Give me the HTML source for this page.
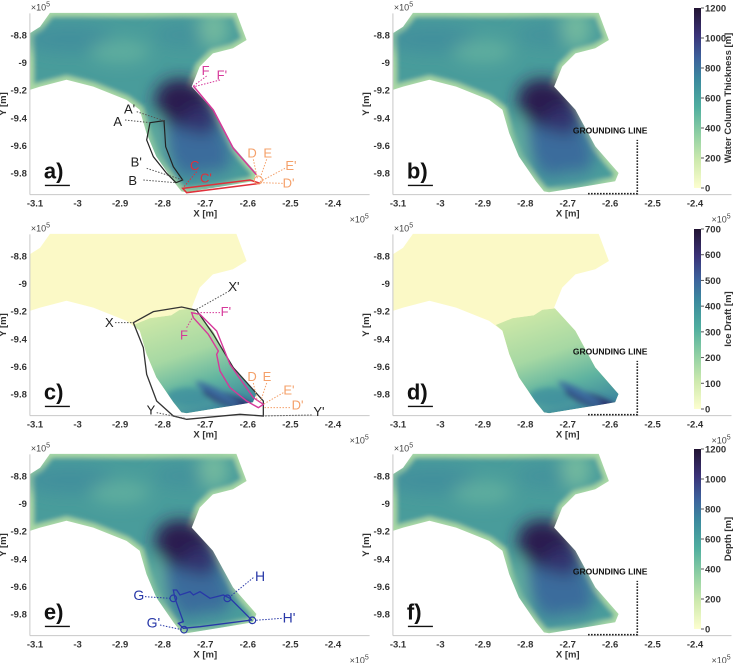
<!DOCTYPE html>
<html><head><meta charset="utf-8"><style>
html,body{margin:0;padding:0;background:#fff;}
svg{display:block;font-family:"Liberation Sans",sans-serif;}
</style></head><body>
<svg id="fig" width="738" height="663" viewBox="0 0 738 663">
<defs>
<linearGradient id="cmap" x1="0" y1="1" x2="0" y2="0">
<stop offset="0" stop-color="#fdfecf"/><stop offset="0.15" stop-color="#cfeaae"/><stop offset="0.3" stop-color="#8fcfa3"/>
<stop offset="0.45" stop-color="#4fae9f"/><stop offset="0.6" stop-color="#3b8a9e"/><stop offset="0.72" stop-color="#3c629c"/>
<stop offset="0.85" stop-color="#3a3278"/><stop offset="1" stop-color="#221433"/></linearGradient>
<linearGradient id="tongueG" x1="0.2" y1="0" x2="0.6" y2="1">
<stop offset="0" stop-color="#d2eaa8"/><stop offset="0.45" stop-color="#a6d8a3"/><stop offset="0.75" stop-color="#5fb3a0"/><stop offset="1" stop-color="#3f8a9e"/></linearGradient>
<filter id="blur" x="-50%" y="-50%" width="200%" height="200%"><feGaussianBlur stdDeviation="8"/></filter>
<filter id="blur2" x="-50%" y="-50%" width="200%" height="200%"><feGaussianBlur stdDeviation="3"/></filter>
<filter id="blur3" x="-20%" y="-20%" width="140%" height="140%"><feGaussianBlur stdDeviation="2.5"/></filter>
</defs>
</svg>
<script>
const xTicks=[-3.1,-3,-2.9,-2.8,-2.7,-2.6,-2.5,-2.4];
const yTicks=[-8.8,-9,-9.2,-9.4,-9.6,-9.8];
const cbTicksA=[0,200,400,600,800,1000,1200];
const cbTicksB=[0,100,200,300,400,500,600,700];
const outlineX=[-3.065,-2.627,-2.603,-2.635,-2.682,-2.713,-2.732,-2.682,-2.635,-2.580,-2.588,-2.635,-2.744,-2.756,-2.775,-2.815,-2.838,-2.854,-2.885,-2.963,-3.026,-3.088,-3.112,-3.112,-3.088];
const outlineY=[-8.64,-8.64,-8.836,-8.896,-8.933,-9.029,-9.174,-9.342,-9.607,-9.80,-9.86,-9.884,-9.94,-9.933,-9.86,-9.68,-9.511,-9.342,-9.27,-9.174,-9.125,-9.174,-9.198,-8.788,-8.74];
const tongueX=[-2.87,-2.83,-2.78,-2.76,-2.73,-2.682,-2.635,-2.58,-2.588,-2.635,-2.744,-2.756,-2.775,-2.815,-2.838,-2.854];
const tongueY=[-9.30,-9.25,-9.23,-9.19,-9.18,-9.342,-9.607,-9.80,-9.86,-9.884,-9.94,-9.933,-9.86,-9.68,-9.511,-9.342];
const svg=document.getElementById('fig');
const NS='http://www.w3.org/2000/svg';
function mk(tag,attrs,parent,text){const e=document.createElementNS(NS,tag);for(const k in attrs)e.setAttribute(k,attrs[k]);if(text!==undefined)e.textContent=text;(parent||svg).appendChild(e);return e;}
const rows=[0,221,441];
function panel(col,row,kind,letter){
  const ox=col===0?35:398, oy=rows[row]+35, s=col===0?425.7:424.3;
  const X=x=>ox+(x+3.1)*s, Y=y=>oy+(-8.8-y)*138;
  const g=mk('g',{});
  
  
  const pts=(xs,ys)=>xs.map((x,i)=>X(x).toFixed(1)+','+Y(ys[i]).toFixed(1)).join(' ');
  const cid='clip'+letter;
  const cp=mk('clipPath',{id:cid},g);mk('polygon',{points:pts(outlineX,outlineY)},cp);
  const tcid='tclip'+letter;
  const tcp=mk('clipPath',{id:tcid},g);mk('polygon',{points:pts(tongueX,tongueY)},tcp);
  if(kind==='depth'){
    const cg=mk('g',{'clip-path':'url(#'+cid+')'},g);
    mk('polygon',{points:pts(outlineX,outlineY),fill:'#4a9c9b',stroke:'#a9d8a4','stroke-width':8,filter:'url(#blur3)'},cg);
    const bg=mk('g',{filter:'url(#blur)'},cg);
    mk('ellipse',{cx:X(-3.02),cy:Y(-8.83),rx:45,ry:14,fill:'#3e8a9c',opacity:0.7},bg);
    mk('ellipse',{cx:X(-2.9),cy:Y(-8.92),rx:30,ry:12,fill:'#6cb9a0',opacity:0.6},bg);
    mk('ellipse',{cx:X(-2.75),cy:Y(-8.8),rx:30,ry:12,fill:'#3f8e9d',opacity:0.6},bg);
    mk('ellipse',{cx:X(-2.68),cy:Y(-8.75),rx:15,ry:20,fill:'#8ccba2',opacity:0.6},bg);
    mk('ellipse',{cx:X(-2.72),cy:Y(-9.6),rx:30,ry:42,fill:'#3b6c9c',transform:'rotate(-30 '+X(-2.72)+' '+Y(-9.6)+')'},bg);
    mk('ellipse',{cx:X(-2.75),cy:Y(-9.3),rx:30,ry:24,fill:'#2b1f50',transform:'rotate(25 '+X(-2.75)+' '+Y(-9.3)+')'},bg);
    mk('ellipse',{cx:X(-2.71),cy:Y(-9.42),rx:18,ry:14,fill:'#32306e'},bg);
    mk('ellipse',{cx:X(-2.815),cy:Y(-9.62),rx:9,ry:32,fill:'#6cb89f',opacity:0.8},bg);
    mk('ellipse',{cx:X(-2.68),cy:Y(-9.85),rx:25,ry:8,fill:'#4fa39e',opacity:0.8},bg);
  } else {
    mk('polygon',{points:pts(outlineX,outlineY),fill:'#fbf9c6'},g);
    const tg=mk('g',{'clip-path':'url(#'+tcid+')'},g);
    mk('polygon',{points:pts(tongueX,tongueY),fill:'url(#tongueG)'},tg);
    const bg=mk('g',{filter:'url(#blur2)'},tg);
    mk('ellipse',{cx:X(-2.74),cy:Y(-9.82),rx:22,ry:9,fill:'#3f8e9e',opacity:0.8},bg);
    mk('ellipse',{cx:X(-2.64),cy:Y(-9.85),rx:30,ry:6,fill:'#2c2d6c',transform:'rotate(20 '+X(-2.64)+' '+Y(-9.85)+')'},bg);
    mk('ellipse',{cx:X(-2.67),cy:Y(-9.8),rx:25,ry:4,fill:'#3a6a9e',transform:'rotate(28 '+X(-2.67)+' '+Y(-9.8)+')'},bg);
  }
  const ax=mk('g',{},g);
  
  
  const top=Y(-8.643), bot=Y(-9.957), left=X(-3.112), right=X(-2.314);
  mk('line',{x1:left,y1:bot,x2:right,y2:bot,stroke:'#c8c8c8','stroke-width':1},ax);
  mk('line',{x1:left,y1:top,x2:left,y2:bot,stroke:'#c8c8c8','stroke-width':1},ax);
  xTicks.forEach(t=>{const tx=mk('text',{x:X(t),y:bot+12,'font-size':9.5,'font-weight':'bold',fill:'#333','text-anchor':'middle'},ax,String(t));
    });
  yTicks.forEach(t=>{const ty=mk('text',{x:left-3,y:Y(t)+3.5,'font-size':9.5,'font-weight':'bold',fill:'#333','text-anchor':'end'},ax,String(t));
    });
  const xt=mk('text',{x:X(-2.7),y:bot+22,'font-size':9.5,'font-weight':'bold',fill:'#333','text-anchor':'middle'},ax,'X [m]');
  
  const yt=mk('text',{x:0,y:0,'font-size':9.5,'font-weight':'bold',fill:'#333','text-anchor':'middle',transform:'translate('+(left-24)+','+Y(-9.3)+') rotate(-90)'},ax,'Y [m]');
  
  const e1=mk('text',{x:left+1,y:top-3,'font-size':9,fill:'#444'},ax);mk('tspan',{},e1,'×10');mk('tspan',{dy:-4,'font-size':7},e1,'5');
  const e2=mk('text',{x:right-20,y:bot+28,'font-size':9,fill:'#444'},ax);mk('tspan',{},e2,'×10');mk('tspan',{dy:-4,'font-size':7},e2,'5');
  const pl=mk('text',{x:left+14,y:Y(-9.84),'font-size':22,'font-weight':'bold',fill:'#111'},g,letter+')');
  
  mk('line',{x1:left+15,y1:Y(-9.89),x2:left+40,y2:Y(-9.89),stroke:'#111','stroke-width':1.3},g);
  return {X,Y,g,oy:rows[row]};
}
function grounding(p){
  const gl=mk('g',{},p.g);
  
  
  mk('polyline',{points:p.X(-2.652)+','+p.Y(-9.95)+' '+p.X(-2.536)+','+p.Y(-9.95)+' '+p.X(-2.536)+','+p.Y(-9.56),fill:'none',stroke:'#111','stroke-width':1.6,'stroke-dasharray':'1.5,1.5'},gl);
  mk('text',{x:p.X(-2.6),y:p.Y(-9.515),'font-size':8.5,'font-weight':'bold',fill:'#111','text-anchor':'middle'},gl,'GROUNDING LINE');
}
function colorbar(rowOff,ticks,max,label){
  const cb=mk('g',{});
  
  
  const t=rowOff+8,b=rowOff+188;
  mk('rect',{x:694,y:t,width:7,height:b-t,fill:'url(#cmap)'},cb);
  ticks.forEach(v=>{const yy=b-(v/max)*(b-t);
    mk('line',{x1:701,y1:yy,x2:704,y2:yy,stroke:'#555'},cb);
    const tl=mk('text',{x:705,y:yy+3.5,'font-size':9.5,'font-weight':'bold',fill:'#333'},cb,String(v));
    });
  const ct=mk('text',{x:0,y:0,'font-size':9.5,'font-weight':'bold',fill:'#333','text-anchor':'middle',transform:'translate(731,'+((t+b)/2)+') rotate(-90)'},cb,label);
  
}
function txt(g,x,y,s,c,fs){return mk('text',{x:x,y:y,'font-size':fs||13,fill:c},g,s);}
function dl(g,x1,y1,x2,y2,c){mk('line',{x1:x1,y1:y1,x2:x2,y2:y2,stroke:c,'stroke-width':1,'stroke-dasharray':'1.5,1.5'},g);}
const z=(a)=>a/3;
const pa=panel(0,0,'depth','a');
{const g=mk('g',{},pa.g);
 const P=a=>a.map(p=>z(p[0])+','+z(p[1])).join(' ');
 mk('polygon',{points:P([[450,368],[492,362],[497,440],[520,500],[548,540],[528,548],[500,520],[460,470],[440,420]]),fill:'none',stroke:'#222','stroke-width':1.2},g);
 mk('polygon',{points:P([[548,565],[750,540],[780,550],[560,578]]),fill:'none',stroke:'#e0303a','stroke-width':1.5},g);
 mk('polyline',{points:P([[580,258],[640,330],[700,445],[770,525]]),fill:'none',stroke:'#d6389a','stroke-width':1.5},g);
 mk('circle',{cx:z(775),cy:z(540),r:4,fill:'none',stroke:'#f4a06a','stroke-width':1},g);
 txt(g,z(340),z(378),'A','#222');txt(g,z(372),z(340),"A'",'#222');dl(g,z(375),z(360),z(450),z(368),'#555');dl(g,z(410),z(335),z(492),z(362),'#555');
 txt(g,z(385),z(555),'B','#222');txt(g,z(392),z(500),"B'",'#222');dl(g,z(430),z(540),z(528),z(548),'#555');dl(g,z(440),z(505),z(548),z(540),'#555');
 txt(g,z(570),z(510),'C','#e0303a');txt(g,z(600),z(548),"C'",'#e0303a');dl(g,z(590),z(515),z(548),z(565),'#e0303a');
 txt(g,z(605),z(225),'F','#d6389a');txt(g,z(650),z(238),"F'",'#d6389a');dl(g,z(620),z(228),z(580),z(258),'#d6389a');dl(g,z(660),z(240),z(582),z(260),'#d6389a');
 txt(g,z(742),z(472),'D','#f4a06a');txt(g,z(790),z(472),'E','#f4a06a');txt(g,z(856),z(510),"E'",'#f4a06a');txt(g,z(848),z(562),"D'",'#f4a06a');
 dl(g,z(760),z(478),z(772),z(535),'#f4a06a');dl(g,z(800),z(478),z(780),z(535),'#f4a06a');dl(g,z(855),z(505),z(780),z(545),'#f4a06a');dl(g,z(848),z(550),z(780),z(548),'#f4a06a');}
const pb=panel(1,0,'depth','b');grounding(pb);colorbar(0,cbTicksA,1200,'Water Column Thickness [m]');
const pc=panel(0,1,'draft','c');
{const g=mk('g',{},pc.g);
 const o=221;const P=a=>a.map(p=>z(p[0])+','+(o+z(p[1]))).join(' ');
 mk('polygon',{points:P([[400,305],[460,272],[545,258],[590,268],[640,340],[700,440],[790,540],[790,585],[720,580],[560,595],[520,585],[470,540],[440,460],[430,380]]),fill:'none',stroke:'#333','stroke-width':1.3},g);
 mk('polygon',{points:P([[575,275],[600,280],[650,330],[690,430],[760,530],[790,550],[775,560],[740,540],[690,500],[660,450],[650,400],[655,390],[625,340],[580,290]]),fill:'none',stroke:'#d6389a','stroke-width':1.4},g);
 txt(g,z(315),o+z(318),'X','#222');dl(g,z(345),o+z(305),z(400),o+z(305),'#555');
 txt(g,z(685),o+z(210),"X'",'#222');dl(g,z(688),o+z(210),z(590),o+z(265),'#555');
 txt(g,z(440),o+z(580),'Y','#222');dl(g,z(470),o+z(575),z(555),o+z(592),'#555');
 txt(g,z(940),o+z(585),"Y'",'#222');dl(g,z(935),o+z(582),z(790),o+z(585),'#555');
 txt(g,z(540),o+z(355),'F','#d6389a');txt(g,z(662),o+z(285),"F'",'#d6389a');dl(g,z(560),o+z(320),z(580),o+z(285),'#d6389a');dl(g,z(660),o+z(275),z(595),o+z(275),'#d6389a');
 txt(g,z(742),o+z(480),'D','#f4a06a');txt(g,z(788),o+z(480),'E','#f4a06a');txt(g,z(850),o+z(520),"E'",'#f4a06a');txt(g,z(875),o+z(565),"D'",'#f4a06a');
 dl(g,z(760),o+z(486),z(772),o+z(540),'#f4a06a');dl(g,z(800),o+z(486),z(782),o+z(540),'#f4a06a');dl(g,z(850),o+z(515),z(790),o+z(550),'#f4a06a');dl(g,z(870),o+z(560),z(790),o+z(560),'#f4a06a');}
const pd=panel(1,1,'draft','d');grounding(pd);colorbar(221,cbTicksB,700,'Ice Draft [m]');
const pe=panel(0,2,'depth','e');
{const g=mk('g',{},pe.g);
 const o=435;const P=a=>a.map(p=>z(p[0])+','+(o+z(p[1]))).join(' ');const c='#2838a8';
 mk('polygon',{points:P([[520,465],[530,465],[540,480],[570,470],[580,480],[600,470],[630,490],[670,480],[690,490],[720,520],[755,555],[600,575],[550,580],[535,565],[550,560],[525,490]]),fill:'none',stroke:c,'stroke-width':1.3},g);
 [[520,490],[682,490],[757,556],[552,584]].forEach(p=>mk('circle',{cx:z(p[0]),cy:o+z(p[1]),r:3.3,fill:'none',stroke:c,'stroke-width':1.2},g));
 txt(g,z(400),o+z(495),'G',c,14);dl(g,z(435),o+z(485),z(510),o+z(490),c);
 txt(g,z(765),o+z(438),'H',c,14);dl(g,z(760),o+z(428),z(690),o+z(485),c);
 txt(g,z(848),o+z(562),"H'",c,14);dl(g,z(845),o+z(550),z(765),o+z(556),c);
 txt(g,z(440),o+z(578),"G'",c,14);dl(g,z(480),o+z(570),z(545),o+z(584),c);}
const pf=panel(1,2,'depth','f');grounding(pf);colorbar(441,cbTicksA,1200,'Depth [m]');
</script>
</body></html>
